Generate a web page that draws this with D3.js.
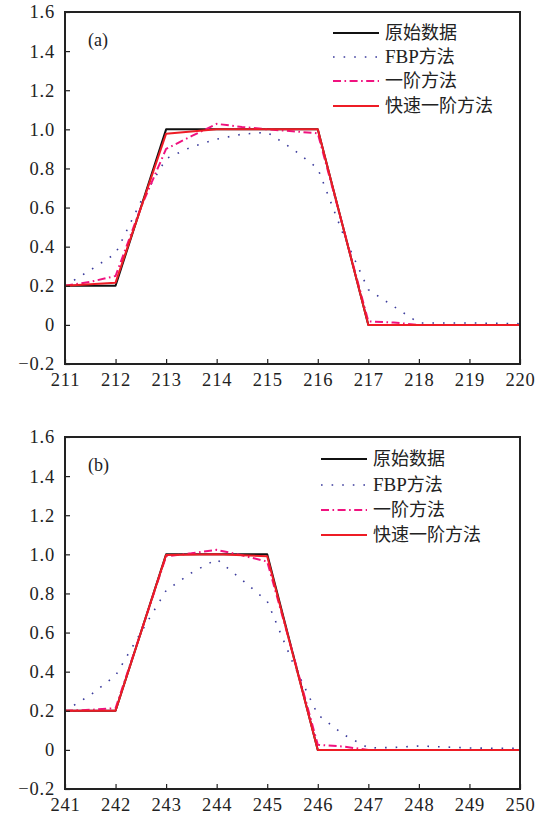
<!DOCTYPE html>
<html>
<head>
<meta charset="utf-8">
<script src="https://cdn.jsdelivr.net/npm/d3@7"></script>
<style>
  body { margin: 0; background: #fff; }
  svg text { font-family: "Liberation Serif", "DejaVu Serif", serif; fill: #222; }
  .cjk { font-family: "Noto Sans CJK SC", sans-serif; }
</style>
</head>
<body>
<svg id="chart" width="551" height="818"></svg>
<script>
// ---- data ----
var seriesNames = ["原始数据", "FBP方法", "一阶方法", "快速一阶方法"];
var yTicks = [-0.2, 0, 0.2, 0.4, 0.6, 0.8, 1.0, 1.2, 1.4, 1.6];

// panel (a)
var xA = [211, 212, 213, 214, 215, 216, 217, 218, 219, 220];
var origA = [0.2, 0.2, 1.0, 1.0, 1.0, 1.0, 0, 0, 0, 0];
var fastA = [0.2, 0.216, 0.978, 1.0, 1.0, 1.0, 0, 0, 0, 0];
var xHalfA = [211, 211.5, 212, 212.5, 213, 213.5, 214, 214.5, 215, 215.5, 216, 216.5, 217, 217.5, 218, 218.5, 219, 219.5, 220];
var fbpA = [0.2, 0.28, 0.365, 0.63, 0.85, 0.91, 0.95, 0.975, 0.985, 0.9, 0.8, 0.465, 0.18, 0.095, 0.01, 0.01, 0.01, 0.008, 0.006];
var firstA = [0.2, 0.22, 0.25, 0.6, 0.9, 0.965, 1.028, 1.012, 1.0, 0.99, 0.98, 0.5, 0.018, 0.012, 0.0, 0, 0, 0, 0];

// panel (b)
var xB = [241, 242, 243, 244, 245, 246, 247, 248, 249, 250];
var origB = [0.2, 0.2, 1.0, 1.0, 1.0, 0, 0, 0, 0, 0];
var fastB = [0.2, 0.2, 0.997, 1.0, 0.99, 0, 0, 0, 0, 0];
var xHalfB = [241, 241.5, 242, 242.5, 243, 243.5, 244, 244.5, 245, 245.5, 246, 246.5, 247, 247.5, 248, 248.5, 249, 249.5, 250];
var fbpB = [0.2, 0.28, 0.38, 0.6, 0.815, 0.905, 0.975, 0.87, 0.76, 0.45, 0.18, 0.08, 0.01, 0.012, 0.02, 0.015, 0.01, 0.008, 0.008];
var firstB = [0.2, 0.205, 0.213, 0.6, 0.99, 1.005, 1.023, 0.995, 0.963, 0.5, 0.026, 0.017, 0.0, 0, 0, 0, 0, 0, 0];

var styles = [
  { color: "#111", width: 2, dash: null },
  { color: "#3b3b9c", width: 1.6, dash: "1.6,9" },
  { color: "#f0127f", width: 2, dash: "8,3.5,1.6,3.5" },
  { color: "#ee1c25", width: 2, dash: null }
];

var svg = d3.select("#chart");

function fmt(v) {
  if (Math.abs(v) < 1e-9) return "0";
  var s = d3.format(".1f")(Math.abs(v));
  return (v < 0 ? "\u2212" + s : s);
}

function drawPanel(opt) {
  var left = 65, right = 520, top = opt.top, bottom = opt.top + 352;
  var x = d3.scaleLinear().domain([opt.xs[0], opt.xs[opt.xs.length - 1]]).range([left, right]);
  var y = d3.scaleLinear().domain([-0.2, 1.6]).range([bottom, top]);
  var g = svg.append("g");

  var clipId = "clip" + opt.label;
  g.append("clipPath").attr("id", clipId).append("rect")
    .attr("x", left).attr("y", top).attr("width", right - left).attr("height", bottom - top);

  var line = d3.line().x(function(d) { return x(d[0]); }).y(function(d) { return y(d[1]); });
  var plot = g.append("g").attr("clip-path", "url(#" + clipId + ")");
  opt.series.forEach(function(s, i) {
    var st = styles[i];
    plot.append("path")
      .datum(d3.zip(s.x, s.y))
      .attr("d", line)
      .attr("fill", "none")
      .attr("stroke", st.color)
      .attr("stroke-width", st.width)
      .attr("stroke-linejoin", "round")
      .attr("stroke-dasharray", st.dash);
  });

  // axes (ticks inside)
  var ax = g.append("g").attr("transform", "translate(0," + bottom + ")")
    .call(d3.axisBottom(x).tickValues(opt.xs).tickSize(-5).tickPadding(9).tickFormat(d3.format("d")));
  var ay = g.append("g").attr("transform", "translate(" + left + ",0)")
    .call(d3.axisLeft(y).tickValues(yTicks).tickSize(-5).tickPadding(10).tickFormat(fmt));
  [ax, ay].forEach(function(a) {
    a.select(".domain").remove();
    a.selectAll("line").attr("stroke", "#222").attr("stroke-width", 1.2);
    a.selectAll("text").attr("font-size", 18.5).attr("letter-spacing", 0.8)
      .attr("font-family", "Liberation Serif, serif").attr("fill", "#222");
  });
  g.append("rect").attr("x", left).attr("y", top).attr("width", right - left).attr("height", bottom - top)
    .attr("fill", "none").attr("stroke", "#222").attr("stroke-width", 2);

  g.append("text").attr("x", 88).attr("y", top + 34).attr("font-size", 18).text("(" + opt.label + ")");

  // legend
  seriesNames.forEach(function(name, i) {
    var yy = opt.legY[i], st = styles[i];
    g.append("line").attr("x1", opt.legX).attr("x2", opt.legX + 46).attr("y1", yy).attr("y2", yy)
      .attr("stroke", st.color).attr("stroke-width", st.width).attr("stroke-dasharray", st.dash);
    var t = g.append("text").attr("x", opt.legX + 52).attr("y", yy + 6).attr("font-size", 18);
    if (name.indexOf("FBP") === 0) {
      t.append("tspan").attr("font-size", 19).text("FBP");
      t.append("tspan").attr("class", "cjk").text(name.slice(3));
    } else {
      t.attr("class", "cjk").text(name);
    }
  });
}

drawPanel({
  label: "a", top: 12, xs: xA, legX: 333, legY: [33, 57, 81, 106],
  series: [
    { x: xA, y: origA }, { x: xHalfA, y: fbpA }, { x: xHalfA, y: firstA }, { x: xA, y: fastA }
  ]
});
drawPanel({
  label: "b", top: 437, xs: xB, legX: 321, legY: [459, 485, 510, 535],
  series: [
    { x: xB, y: origB }, { x: xHalfB, y: fbpB }, { x: xHalfB, y: firstB }, { x: xB, y: fastB }
  ]
});
</script>
</body>
</html>
